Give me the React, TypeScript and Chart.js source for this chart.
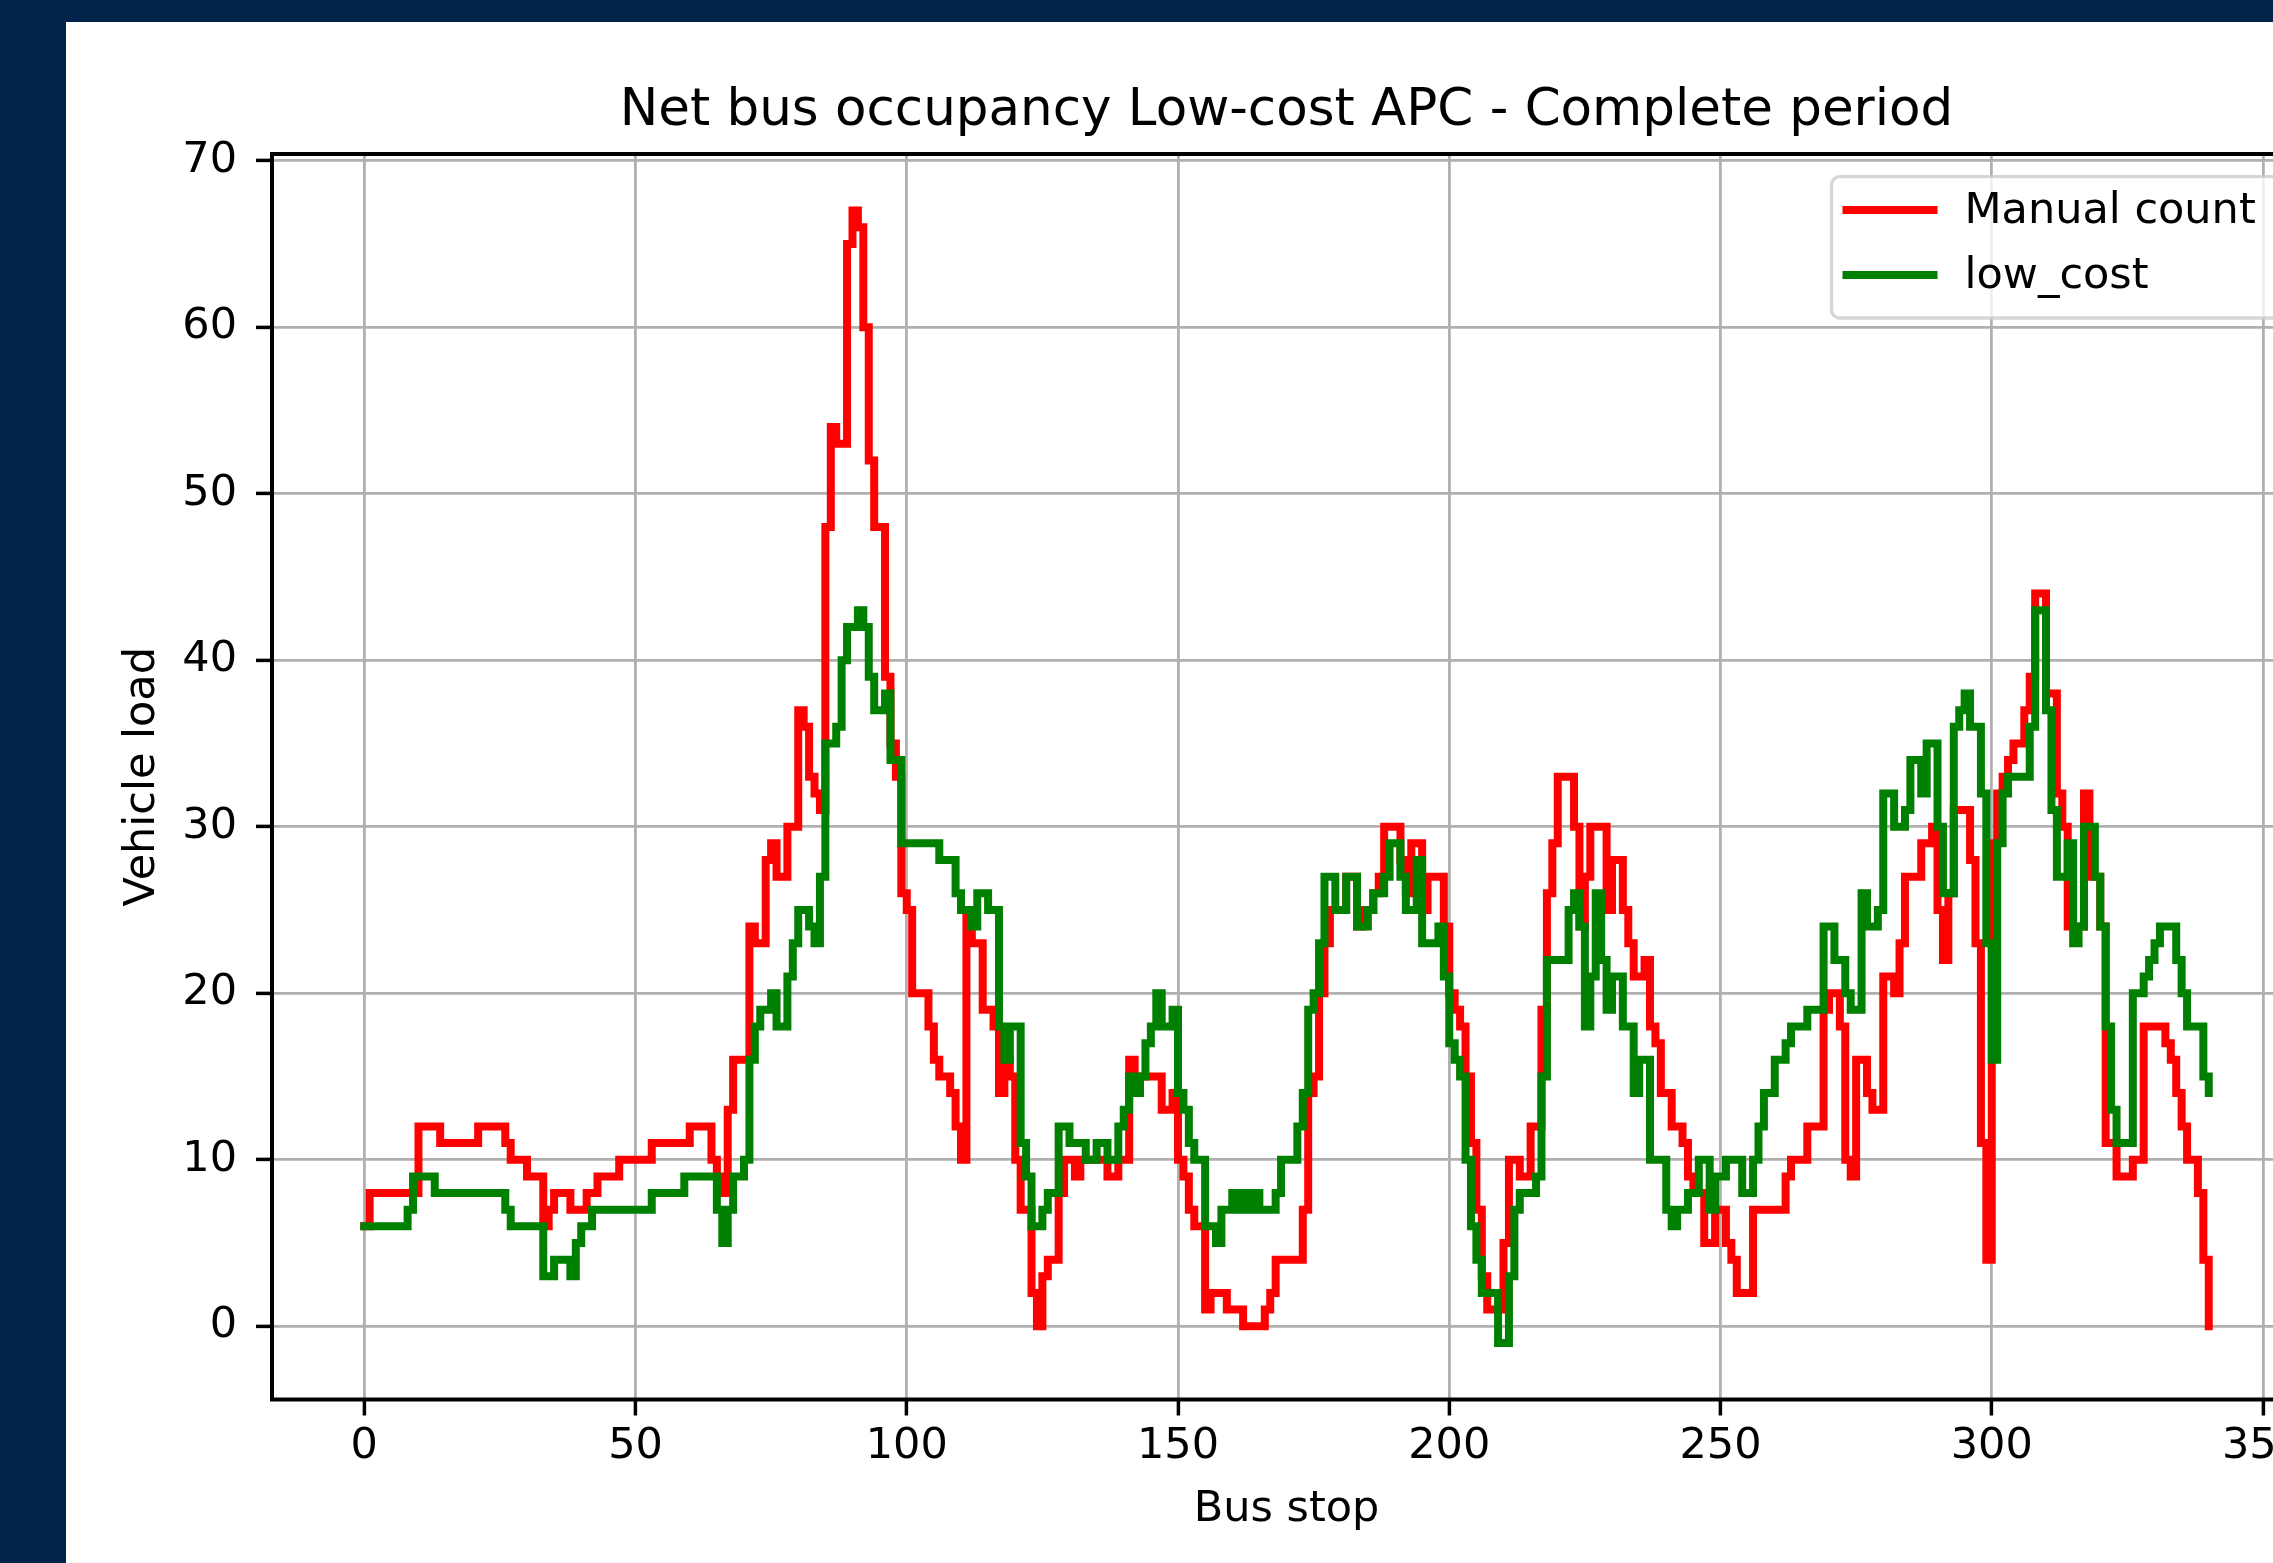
import { useEffect, useRef } from 'react';
import { Chart, registerables } from 'chart.js';

Chart.register(...registerables);

// ---------- data ----------
const CHART_TITLE = 'Net bus occupancy Low-cost APC - Complete period';
const X_LABEL = 'Bus stop';
const Y_LABEL = 'Vehicle load';
const SERIES_NAMES = ['Manual count', 'low_cost'];

const xTicks = [0, 50, 100, 150, 200, 250, 300, 350];
const yTicks = [0, 10, 20, 30, 40, 50, 60, 70];

// Manual count (red), bus stops 0..340
const manualCount = [
  6, 8, 8, 8, 8, 8, 8, 8, 8, 8,
  12, 12, 12, 12, 11, 11, 11, 11, 11, 11,
  11, 12, 12, 12, 12, 12, 11, 10, 10, 10,
  9, 9, 9, 6, 7, 8, 8, 8, 7, 7,
  7, 8, 8, 9, 9, 9, 9, 10, 10, 10,
  10, 10, 10, 11, 11, 11, 11, 11, 11, 11,
  12, 12, 12, 12, 10, 9, 8, 13, 16, 16,
  16, 24, 23, 23, 28, 29, 27, 27, 30, 30,
  37, 36, 33, 32, 31, 48, 54, 53, 53, 65,
  67, 66, 60, 52, 48, 48, 39, 35, 33, 26,
  25, 20, 20, 20, 18, 16, 15, 15, 14, 12,
  10, 25, 23, 23, 19, 19, 18, 14, 16, 15,
  10, 7, 7, 2, 0, 3, 4, 4, 8, 10,
  10, 9, 10, 10, 10, 10, 10, 9, 9, 10,
  10, 16, 15, 15, 15, 15, 15, 13, 13, 14,
  10, 9, 7, 6, 6, 1, 2, 2, 2, 1,
  1, 1, 0, 0, 0, 0, 1, 2, 4, 4,
  4, 4, 4, 7, 14, 15, 20, 23, 25, 25,
  25, 27, 27, 24, 25, 25, 26, 27, 30, 30,
  30, 28, 26, 29, 29, 25, 27, 27, 27, 24,
  20, 19, 18, 15, 11, 7, 3, 1, 1, 1,
  5, 10, 10, 9, 9, 12, 12, 19, 26, 29,
  33, 33, 33, 30, 24, 27, 30, 30, 30, 25,
  28, 28, 25, 23, 21, 21, 22, 18, 17, 14,
  14, 12, 12, 11, 9, 8, 8, 5, 5, 7,
  7, 5, 4, 2, 2, 2, 7, 7, 7, 7,
  7, 7, 9, 10, 10, 10, 12, 12, 12, 19,
  20, 20, 18, 10, 9, 16, 16, 14, 13, 13,
  21, 21, 20, 23, 27, 27, 27, 29, 29, 30,
  25, 22, 26, 31, 31, 31, 28, 23, 11, 4,
  29, 32, 33, 34, 35, 35, 37, 39, 44, 44,
  38, 38, 32, 30, 24, 24, 24, 32, 27, 27,
  24, 11, 11, 9, 9, 9, 10, 10, 18, 18,
  18, 18, 17, 16, 14, 12, 10, 10, 8, 4,
  0,
];

// low_cost APC (green), bus stops 0..340
const lowCost = [
  6, 6, 6, 6, 6, 6, 6, 6, 7, 9,
  9, 9, 9, 8, 8, 8, 8, 8, 8, 8,
  8, 8, 8, 8, 8, 8, 7, 6, 6, 6,
  6, 6, 6, 3, 3, 4, 4, 4, 3, 5,
  6, 6, 7, 7, 7, 7, 7, 7, 7, 7,
  7, 7, 7, 8, 8, 8, 8, 8, 8, 9,
  9, 9, 9, 9, 9, 7, 5, 7, 9, 9,
  10, 16, 18, 19, 19, 20, 18, 18, 21, 23,
  25, 25, 24, 23, 27, 35, 35, 36, 40, 42,
  42, 43, 42, 39, 37, 37, 38, 34, 34, 29,
  29, 29, 29, 29, 29, 29, 28, 28, 28, 26,
  25, 25, 24, 26, 26, 25, 25, 18, 16, 18,
  18, 11, 9, 6, 6, 7, 8, 8, 12, 12,
  11, 11, 11, 10, 10, 11, 11, 10, 10, 12,
  13, 15, 14, 15, 17, 18, 20, 18, 18, 19,
  14, 13, 11, 10, 10, 6, 6, 5, 7, 7,
  8, 7, 8, 7, 8, 7, 7, 7, 8, 10,
  10, 10, 12, 14, 19, 20, 23, 27, 27, 25,
  25, 27, 27, 24, 24, 25, 26, 26, 27, 29,
  29, 27, 25, 25, 28, 23, 23, 23, 24, 21,
  17, 16, 15, 10, 6, 4, 2, 2, 2, -1,
  -1, 3, 7, 8, 8, 8, 9, 15, 22, 22,
  22, 22, 25, 26, 24, 18, 21, 26, 22, 19,
  21, 21, 18, 18, 14, 16, 16, 10, 10, 10,
  7, 6, 7, 7, 8, 8, 10, 10, 7, 9,
  9, 10, 10, 10, 8, 8, 10, 12, 14, 14,
  16, 16, 17, 18, 18, 18, 19, 19, 19, 24,
  24, 22, 22, 20, 19, 19, 26, 24, 24, 25,
  32, 32, 30, 30, 31, 34, 34, 32, 35, 35,
  30, 26, 26, 36, 37, 38, 36, 36, 32, 23,
  16, 29, 32, 33, 33, 33, 33, 36, 43, 43,
  37, 31, 27, 27, 29, 23, 24, 30, 30, 27,
  24, 18, 13, 11, 11, 11, 20, 20, 21, 22,
  23, 24, 24, 24, 22, 20, 18, 18, 18, 15,
  14,
];

// bus stop index of every reading
const busStops = manualCount.map((_, i) => i);

// ---------- styling ----------
const NAVY = '#01244a';
const FONT = 'DejaVu Sans';
const LABEL_SIZE = 43;
const TITLE_SIZE = 51.5;
const LINE_W = 8;
const SERIES_COLORS = ['#ff0000', '#008000'];

const CANVAS_W = 2300;
const CANVAS_H = 1541;

const mplPlugin = {
  id: 'mplDecor',
  afterDatasetsDraw(chart: any) {
    const { ctx, chartArea: a } = chart;
    ctx.save();
    ctx.strokeStyle = '#000';
    ctx.lineWidth = 4;
    ctx.lineJoin = 'miter';
    ctx.strokeRect(a.left, a.top, a.right - a.left, a.bottom - a.top);
    ctx.restore();
  },
  afterDraw(chart: any) {
    const { ctx, chartArea: a } = chart;
    ctx.save();
    // title
    ctx.fillStyle = '#000';
    ctx.font = `${TITLE_SIZE}px "${FONT}"`;
    ctx.textAlign = 'center';
    ctx.textBaseline = 'alphabetic';
    ctx.fillText(CHART_TITLE, (a.left + a.right) / 2, a.top - 29);

    // legend (upper right, inside axes)
    const fl = a.right - 469.5;
    const ft = a.top + 22.7;
    const fw = 450;
    const fh = 141.3;
    const r = 8;
    ctx.beginPath();
    ctx.moveTo(fl + r, ft);
    ctx.lineTo(fl + fw - r, ft);
    ctx.arcTo(fl + fw, ft, fl + fw, ft + r, r);
    ctx.lineTo(fl + fw, ft + fh - r);
    ctx.arcTo(fl + fw, ft + fh, fl + fw - r, ft + fh, r);
    ctx.lineTo(fl + r, ft + fh);
    ctx.arcTo(fl, ft + fh, fl, ft + fh - r, r);
    ctx.lineTo(fl, ft + r);
    ctx.arcTo(fl, ft, fl + r, ft, r);
    ctx.closePath();
    ctx.fillStyle = 'rgba(255,255,255,0.8)';
    ctx.fill();
    ctx.strokeStyle = 'rgba(204,204,204,0.8)';
    ctx.lineWidth = 3.3;
    ctx.stroke();

    const ds = chart.data.datasets;
    const rows = [ft + 33.3, ft + 98.3];
    ds.forEach((d: any, i: number) => {
      const y = rows[i];
      ctx.beginPath();
      ctx.strokeStyle = d.borderColor;
      ctx.lineWidth = LINE_W;
      ctx.lineCap = 'butt';
      ctx.moveTo(fl + 11, y);
      ctx.lineTo(fl + 106, y);
      ctx.stroke();
      ctx.fillStyle = '#000';
      ctx.font = `${LABEL_SIZE}px "${FONT}"`;
      ctx.textAlign = 'left';
      ctx.textBaseline = 'alphabetic';
      ctx.fillText(d.label, fl + 133, y + 13);
    });
    ctx.restore();
  },
};

export default function App() {
  const ref = useRef<HTMLCanvasElement>(null);

  useEffect(() => {
    const canvas = ref.current;
    if (!canvas) return;
    Chart.defaults.font.family = FONT;
    Chart.defaults.color = '#000';

    const gridOpts = {
      color: '#b0b0b0',
      lineWidth: 2.8,
      tickColor: '#000',
      tickWidth: 3.5,
      tickLength: 16,
      drawTicks: true,
    };

    const chart = new Chart(canvas, {
      type: 'line',
      data: {
        datasets: [
          {
            label: SERIES_NAMES[0],
            data: busStops.map((x, i) => ({ x, y: manualCount[i] })),
            borderColor: SERIES_COLORS[0],
            backgroundColor: SERIES_COLORS[0],
            borderWidth: LINE_W,
            stepped: 'before',
            pointRadius: 0,
            fill: false,
            order: 1,
            borderJoinStyle: 'miter',
            borderCapStyle: 'square',
          },
          {
            label: SERIES_NAMES[1],
            data: busStops.map((x, i) => ({ x, y: lowCost[i] })),
            borderColor: SERIES_COLORS[1],
            backgroundColor: SERIES_COLORS[1],
            borderWidth: LINE_W,
            stepped: 'before',
            pointRadius: 0,
            fill: false,
            order: 0,
            borderJoinStyle: 'miter',
            borderCapStyle: 'square',
          },
        ],
      },
      options: {
        responsive: false,
        maintainAspectRatio: false,
        devicePixelRatio: 1,
        animation: false,
        events: [],
        layout: { padding: { top: 132, left: 51.4, right: 65, bottom: 27.4 } },
        plugins: {
          legend: { display: false },
          title: { display: false },
          tooltip: { enabled: false },
        },
        scales: {
          x: {
            type: 'linear',
            min: -17,
            max: 357,
            afterBuildTicks: (s: any) => {
              s.ticks = xTicks.map((value) => ({ value }));
            },
            afterFit: (s: any) => {
              s.height = 136.1;
            },
            grid: gridOpts,
            border: { display: false },
            ticks: {
              color: '#000',
              font: { size: LABEL_SIZE, family: FONT },
              padding: 6,
              maxRotation: 0,
              autoSkip: false,
            },
            title: {
              display: true,
              text: X_LABEL,
              color: '#000',
              font: { size: LABEL_SIZE, family: FONT },
              padding: 0,
            },
          },
          y: {
            type: 'linear',
            min: -4.4,
            max: 70.4,
            afterBuildTicks: (s: any) => {
              s.ticks = yTicks.map((value) => ({ value }));
            },
            afterFit: (s: any) => {
              s.width = 154.6;
            },
            grid: gridOpts,
            border: { display: false },
            ticks: {
              color: '#000',
              font: { size: LABEL_SIZE, family: FONT },
              padding: 19,
              autoSkip: false,
            },
            title: {
              display: true,
              text: Y_LABEL,
              color: '#000',
              font: { size: LABEL_SIZE, family: FONT },
              padding: 0,
            },
          },
        },
      } as any,
      plugins: [mplPlugin],
    } as any);

    return () => {
      chart.destroy();
    };
  }, []);

  return (
    <div
      style={{
        position: 'fixed',
        left: 0,
        top: 0,
        width: 2273,
        height: 1563,
        background: NAVY,
        overflow: 'hidden',
      }}
    >
      <div
        style={{
          position: 'absolute',
          left: 66,
          top: 22,
          right: 0,
          bottom: 0,
          background: '#ffffff',
          overflow: 'hidden',
        }}
      >
        <canvas
          ref={ref}
          width={CANVAS_W}
          height={CANVAS_H}
          style={{ position: 'absolute', left: 0, top: 0, width: CANVAS_W, height: CANVAS_H }}
        />
      </div>
    </div>
  );
}
